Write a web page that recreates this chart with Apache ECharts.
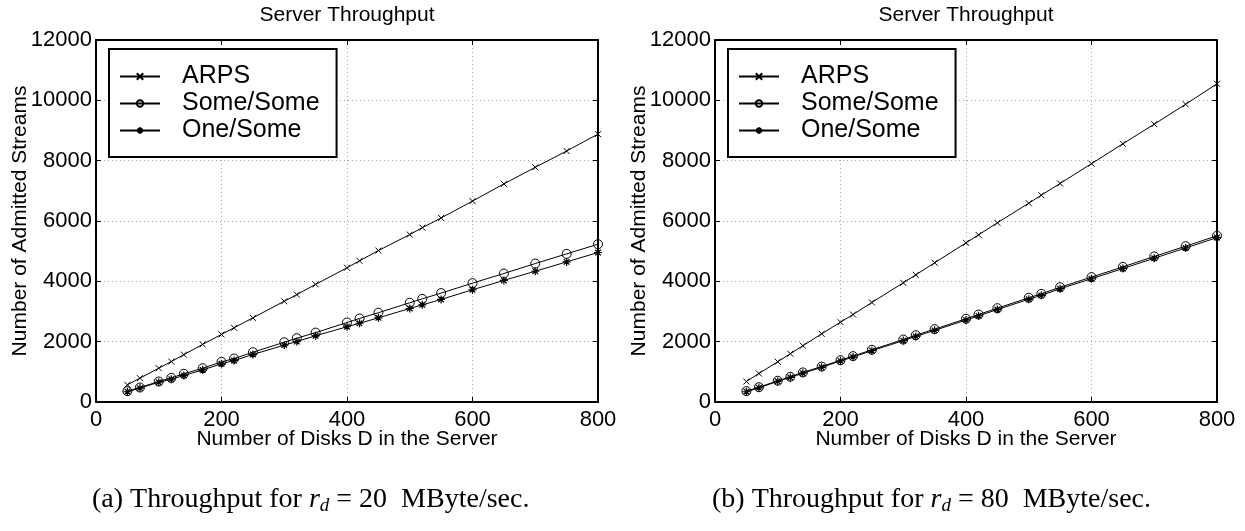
<!DOCTYPE html>
<html>
<head>
<meta charset="utf-8">
<script src="https://cdn.jsdelivr.net/npm/echarts@6/dist/echarts.min.js"></script>
<style>
  html, body { margin: 0; padding: 0; background: #fff; }
  #chart { width: 1245px; height: 531px; }
</style>
</head>
<body>
<div id="chart"></div>
<script>
// Number of disks in the server (x values shared by every curve)
const disks = [50, 70, 100, 120, 140, 170, 200, 220, 250, 300, 320, 350, 400, 420, 450, 500, 520, 550, 600, 650, 700, 750, 800];

// Admitted streams, disk rate 20 MByte/sec
const arps20     = [570, 790, 1120, 1340, 1570, 1910, 2240, 2460, 2790, 3340, 3560, 3900, 4450, 4680, 5020, 5550, 5780, 6100, 6660, 7230, 7780, 8320, 8880];
const someSome20 = [360, 480, 680, 800, 935, 1120, 1330, 1440, 1650, 1980, 2115, 2300, 2635, 2770, 2960, 3290, 3420, 3610, 3940, 4260, 4590, 4910, 5230];
const oneSome20  = [340, 460, 655, 755, 880, 1065, 1265, 1375, 1575, 1885, 2005, 2195, 2495, 2610, 2790, 3100, 3220, 3400, 3720, 4030, 4335, 4645, 4955];

// Admitted streams, disk rate 80 MByte/sec
const arps80     = [680, 945, 1335, 1600, 1865, 2260, 2645, 2900, 3300, 3950, 4215, 4615, 5275, 5540, 5940, 6590, 6855, 7245, 7900, 8560, 9210, 9870, 10550];
const someSome80 = [360, 490, 705, 835, 980, 1175, 1385, 1520, 1730, 2070, 2215, 2415, 2760, 2900, 3110, 3455, 3585, 3805, 4140, 4480, 4825, 5165, 5510];
const oneSome80  = [340, 470, 685, 815, 955, 1150, 1360, 1490, 1700, 2035, 2175, 2375, 2715, 2855, 3065, 3405, 3535, 3755, 4085, 4425, 4765, 5105, 5450];

const seriesNames = ['ARPS', 'Some/Some', 'One/Some'];
const xTicks = { min: 0, max: 800, interval: 200 };
const yTicks = { min: 0, max: 12000, interval: 2000 };

const SANS = '"Liberation Sans", Arial, Helvetica, sans-serif';
const SERIF = '"Liberation Serif", "Times New Roman", serif';

const CROSS = 'path://M0,0L10,10M10,0L0,10';
const STAR = 'path://M0,5L10,5M5,0L5,10M1.5,1.5L8.5,8.5M8.5,1.5L1.5,8.5';

const grids = [
  { left: 96, top: 40, width: 502, height: 362 },
  { left: 715, top: 40, width: 502, height: 362 }
];

const dotted = { color: '#a8a8a8', type: [1, 3], width: 1 };
const frameLine = { show: true, onZero: false, lineStyle: { color: '#000', width: 2 } };
const tick = { show: true, inside: true, length: 5, lineStyle: { color: '#000', width: 1 } };

function xAxesFor(g) {
  return [
    {
      gridIndex: g, type: 'value', position: 'bottom', ...xTicks,
      axisLine: frameLine, axisTick: tick,
      axisLabel: { color: '#000', fontSize: 22, fontFamily: SANS, margin: 7 },
      splitLine: { show: true, lineStyle: dotted },
      name: 'Number of Disks D in the Server', nameLocation: 'middle', nameGap: 27,
      nameMoveOverlap: false,
      nameTextStyle: { color: '#000', fontSize: 21, fontFamily: SANS }
    },
    {
      gridIndex: g, type: 'value', position: 'top', ...xTicks,
      axisLine: frameLine, axisTick: tick,
      axisLabel: { show: false }, splitLine: { show: false }
    }
  ];
}

function yAxesFor(g) {
  return [
    {
      gridIndex: g, type: 'value', position: 'left', ...yTicks,
      axisLine: frameLine, axisTick: tick,
      axisLabel: { color: '#000', fontSize: 22, fontFamily: SANS, margin: 4, formatter: v => String(v) },
      splitLine: { show: true, lineStyle: dotted },
      name: 'Number of Admitted Streams', nameLocation: 'middle', nameGap: 65,
      nameMoveOverlap: false,
      nameTextStyle: { color: '#000', fontSize: 21, fontFamily: SANS }
    },
    {
      gridIndex: g, type: 'value', position: 'right', ...yTicks,
      axisLine: frameLine, axisTick: tick,
      axisLabel: { show: false }, splitLine: { show: false }
    }
  ];
}

function pairs(ys) { return disks.map((d, i) => [d, ys[i]]); }

function curves(axisIndex, arps, someSome, oneSome) {
  const common = {
    type: 'line', xAxisIndex: axisIndex, yAxisIndex: axisIndex,
    showSymbol: true, showAllSymbol: true, animation: false, silent: true,
    lineStyle: { color: '#000', width: 1 }
  };
  return [
    { ...common, name: seriesNames[0], data: pairs(arps), symbol: CROSS, symbolSize: 6,
      itemStyle: { color: '#000', borderColor: '#000', borderWidth: 1 } },
    { ...common, name: seriesNames[1], data: pairs(someSome), symbol: 'circle', symbolSize: 9,
      itemStyle: { color: 'rgba(0,0,0,0)', borderColor: '#000', borderWidth: 1 } },
    { ...common, name: seriesNames[2], data: pairs(oneSome), symbol: STAR, symbolSize: 8,
      itemStyle: { color: '#000', borderColor: '#000', borderWidth: 1.2 } }
  ];
}

function legendAt(left) {
  return {
    data: seriesNames, orient: 'vertical', left: left, top: 49,
    padding: [14, 17, 13, 10], itemGap: 0, itemWidth: 40, itemHeight: 8,
    borderColor: '#000', borderWidth: 2, backgroundColor: '#fff',
    selectedMode: false,
    textStyle: { color: '#000', fontSize: 25, fontFamily: SANS, lineHeight: 27, padding: [0, 0, 0, 17] }
  };
}

function caption(x, label, rate) {
  return {
    type: 'text', x: x, y: 500,
    style: {
      text: '{n|' + label + ' Throughput for }{i|r}{s|d}{n| = ' + rate + '  MByte/sec.}',
      verticalAlign: 'middle',
      rich: {
        n: { fontSize: 28, fontFamily: SERIF, color: '#000', lineHeight: 31 },
        i: { fontSize: 28, fontFamily: SERIF, fontStyle: 'italic', color: '#000', lineHeight: 31 },
        s: { fontSize: 19, fontFamily: SERIF, fontStyle: 'italic', color: '#000', lineHeight: 19, verticalAlign: 'bottom' }
      }
    }
  };
}

function title(cx) {
  return {
    type: 'text', x: cx, y: 15,
    style: { text: 'Server Throughput', fontSize: 21, fontFamily: SANS, fill: '#000', align: 'center', verticalAlign: 'middle' }
  };
}

const chart = echarts.init(document.getElementById('chart'), null, { renderer: 'canvas' });
chart.setOption({
  animation: false,
  backgroundColor: '#fff',
  grid: grids,
  xAxis: [...xAxesFor(0), ...xAxesFor(1)],
  yAxis: [...yAxesFor(0), ...yAxesFor(1)],
  legend: [legendAt(109), legendAt(728)],
  series: [
    ...curves(0, arps20, someSome20, oneSome20),
    ...curves(2, arps80, someSome80, oneSome80)
  ],
  graphic: [
    title(347), title(966),
    caption(92, '(a)', '20'),
    caption(712, '(b)', '80')
  ]
});
</script>
</body>
</html>
